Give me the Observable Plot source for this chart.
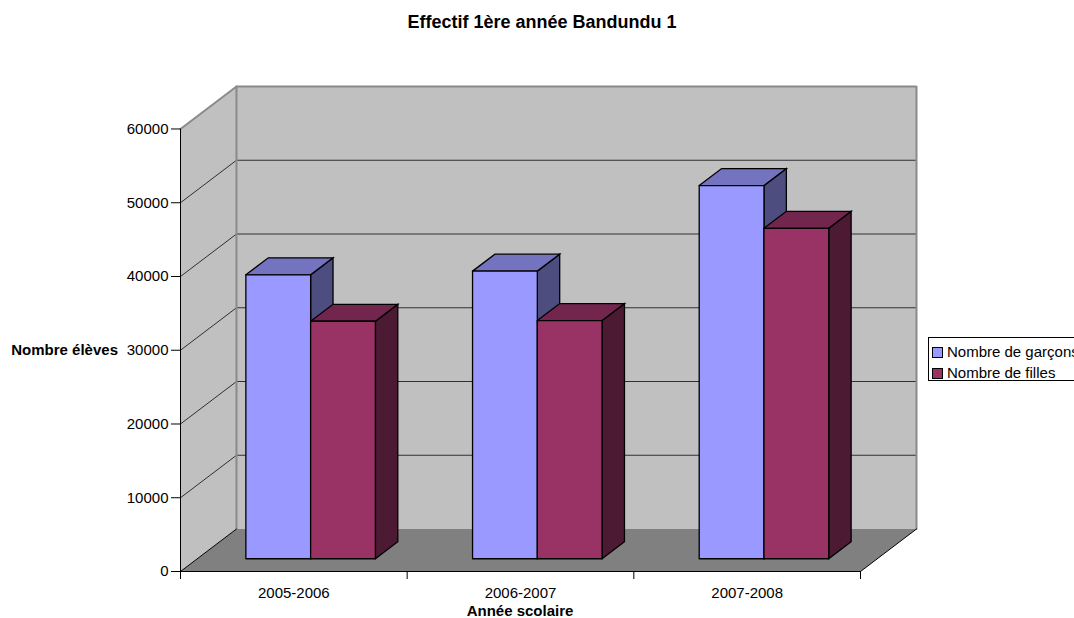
<!DOCTYPE html>
<html>
<head>
<meta charset="utf-8">
<script src="https://cdn.jsdelivr.net/npm/d3@7"></script>
<script src="https://cdn.jsdelivr.net/npm/@observablehq/plot@0.6"></script>
<style>
  html, body { margin: 0; padding: 0; background: #fff; overflow: hidden; }
  #wrap { position: relative; width: 1074px; height: 618px; overflow: hidden;
          font-family: "Liberation Sans", Arial, sans-serif; color: #000; }
  #chart { position: absolute; left: 0; top: 0; }
  .title { position: absolute; left: 542px; top: 12px; transform: translateX(-50%);
           font-weight: bold; font-size: 18px; white-space: nowrap; line-height: 20px; }
  .ytitle { position: absolute; left: 0; width: 118px; top: 341px; text-align: right;
            font-weight: bold; font-size: 15px; line-height: 18px; white-space: nowrap; }
  .xtitle { position: absolute; left: 520px; top: 602px; transform: translateX(-50%);
            font-weight: bold; font-size: 15px; line-height: 18px; white-space: nowrap; }
  .legend { position: absolute; left: 928px; top: 337px; width: 170px; height: 44px;
            border: 1px solid #000; background: #fff; box-sizing: border-box; }
  .legend .item { position: absolute; left: 3px; font-size: 15px; line-height: 18px;
                  white-space: nowrap; display: flex; align-items: center; }
  .legend .sw { width: 9px; height: 9px; border: 1px solid #000; margin-right: 4px; }
</style>
</head>
<body>
<div id="wrap">
  <div id="chart"></div>
  <div class="title">Effectif 1ère année Bandundu 1</div>
  <div class="ytitle">Nombre élèves</div>
  <div class="xtitle">Année scolaire</div>
  <div class="legend" id="legend"></div>
</div>
<script>
// Pupils enrolled in first year, Bandundu 1
const years = ["2005-2006", "2006-2007", "2007-2008"];
const garcons = [38500, 39000, 50600];
const filles = [32200, 32300, 44800];
const seriesNames = ["Nombre de garçons", "Nombre de filles"];
const yTicks = [0, 10000, 20000, 30000, 40000, 50000, 60000];

// Face colours: front, top (shaded), side (darker)
const seriesColors = [
  {front: "#9999FF", top: "#7373BF", side: "#4D4D80"},
  {front: "#993366", top: "#73264D", side: "#4D1A33"}
];

// Oblique depth of the plot box, expressed in data units (category, value)
const DX = 0.247;
const DY = 5760;
const YMAX = 60000;
const N = years.length;
const barW = 1 / 3.5;          // two bars + 150% gap per category
const t0 = 0.3, t1 = 0.7;      // bar front / back depth fractions

const P = (x, v, t) => ({x: x + t * DX, y: v + t * DY});

// Wall and floor polygons
const walls = [];
function poly(list, id, pts, extra = {}) {
  pts.concat([pts[0]]).forEach(p => list.push({id, ...p, ...extra}));
}
poly(walls, "back", [P(0, 0, 1), P(N, 0, 1), P(N, YMAX, 1), P(0, YMAX, 1)], {fill: "#C0C0C0"});
poly(walls, "side", [P(0, 0, 0), P(0, 0, 1), P(0, YMAX, 1), P(0, YMAX, 0)], {fill: "#C0C0C0"});
poly(walls, "floor", [P(0, 0, 0), P(0, 0, 1), P(N, 0, 1), P(N, 0, 0)], {fill: "#808080"});

// Gridlines: diagonal across the side wall, then along the back wall
const grid = [];
yTicks.filter(v => v > 0 && v < YMAX).forEach(v => {
  [P(0, v, 0), P(0, v, 1), P(N, v, 1)].forEach(p => grid.push({id: v, ...p}));
});
const floorDiag = [P(0, 0, 0), P(0, 0, 1)];
const floorRight = [P(N, 0, 0), P(N, 0, 1)];
const wallEdge = [P(0, YMAX, 0), P(0, YMAX, 1), P(N, YMAX, 1), P(N, 0, 1)];
const wallLeft = [P(0, 0, 1), P(0, YMAX, 1)];
const frontAxis = [P(0, 0, 0), P(N, 0, 0)];
const yAxisLine = [P(0, 0, 0), P(0, YMAX, 0)];

// Bar faces, painted left to right: side, top, then front of each bar
const faces = [];
years.forEach((yr, c) => {
  [garcons[c], filles[c]].forEach((v, s) => {
    const x0 = c + 0.5 - barW + s * barW, x1 = x0 + barW;
    const col = seriesColors[s];
    const key = `${c}-${s}`;
    poly(faces, key + "side", [P(x1, 0, t0), P(x1, 0, t1), P(x1, v, t1), P(x1, v, t0)], {fill: col.side});
    poly(faces, key + "top", [P(x0, v, t0), P(x1, v, t0), P(x1, v, t1), P(x0, v, t1)], {fill: col.top});
    poly(faces, key + "front", [P(x0, 0, t0), P(x1, 0, t0), P(x1, v, t0), P(x0, v, t0)], {fill: col.front});
  });
});

const chart = Plot.plot({
  width: 1074,
  height: 618,
  marginLeft: 180,
  marginRight: 158,
  marginTop: 86,
  marginBottom: 47,
  x: {domain: [0, N + DX], label: null},
  y: {domain: [0, YMAX + DY], label: null},
  color: {type: "identity"},
  style: {fontFamily: "'Liberation Sans', Arial, sans-serif", background: "transparent", color: "#000", overflow: "visible"},
  marks: [
    Plot.line(walls, {x: "x", y: "y", z: "id", fill: "fill", stroke: "none"}),
    Plot.line(grid, {x: "x", y: "y", z: "id", stroke: "#303030", strokeWidth: 1, strokeLinejoin: "miter"}),
    Plot.line(wallEdge, {x: "x", y: "y", stroke: "#8A8A8A", strokeWidth: 2, strokeLinejoin: "miter"}),
    Plot.line(wallLeft, {x: "x", y: "y", stroke: "#8A8A8A", strokeWidth: 2}),
    Plot.line(floorDiag, {x: "x", y: "y", stroke: "#000", strokeWidth: 1}),
    Plot.line(floorRight, {x: "x", y: "y", stroke: "#000", strokeWidth: 1}),
    Plot.line(faces, {x: "x", y: "y", z: "id", fill: "fill", stroke: "#000", strokeWidth: 1.3, strokeLinejoin: "miter", strokeMiterlimit: 4}),
    Plot.line(frontAxis, {x: "x", y: "y", stroke: "#000", strokeWidth: 1}),
    Plot.line(yAxisLine, {x: "x", y: "y", stroke: "#000", strokeWidth: 1}),
    Plot.axisY({ticks: yTicks, tickFormat: d3.format("d"), tickSize: 9, tickPadding: 3, fontSize: 15, label: null}),
    Plot.axisX({ticks: d3.range(0, N + 1), tickFormat: () => "", tickSize: 8, label: null}),
    Plot.axisX({ticks: years.map((d, i) => i + 0.5), tickFormat: d => years[Math.floor(d)], tickSize: 0, tickPadding: 16, fontSize: 15, label: null})
  ]
});
document.getElementById("chart").append(chart);

// Legend entries
const legend = document.getElementById("legend");
seriesNames.forEach((name, i) => {
  const item = document.createElement("div");
  item.className = "item";
  item.style.top = (i === 0 ? 5 : 26) + "px";
  const sw = document.createElement("span");
  sw.className = "sw";
  sw.style.background = seriesColors[i].front;
  item.append(sw, document.createTextNode(name));
  legend.append(item);
});
</script>
</body>
</html>
